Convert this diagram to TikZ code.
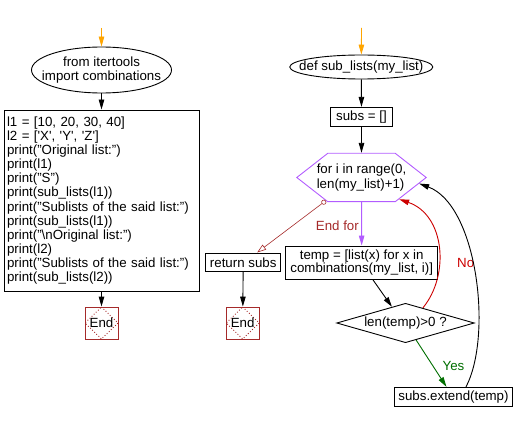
\documentclass[tikz,border=0pt]{standalone}
\usepackage{fontspec}
\setmainfont{Liberation Sans}
\usetikzlibrary{arrows.meta,positioning,shapes.geometric,shapes.symbols}
\definecolor{startorange}{RGB}{255,165,0}
\definecolor{loopviolet}{RGB}{178,92,255}
\definecolor{endred}{RGB}{165,42,42}
\definecolor{nored}{RGB}{204,0,0}
\definecolor{yesgreen}{RGB}{0,110,0}
\tikzset{
  startell/.style={ellipse, draw, inner ysep=0pt},
  procbox/.style={rectangle, draw, inner sep=0pt},
  loophex/.style={signal, signal to=east and west, signal pointer angle=76,
    draw=loopviolet, inner ysep=0pt, align=left},
  testdia/.style={diamond, draw, aspect=3.5, inner sep=0pt},
  endbox/.style={rectangle, draw=endred, minimum width=33pt, minimum height=32pt,
    inner sep=0pt,
    path picture={\draw[endred, dotted] (path picture bounding box.north)
      -- (path picture bounding box.east) -- (path picture bounding box.south)
      -- (path picture bounding box.west) -- cycle;}},
  exitline/.style={draw=endred, line width=0.6pt,
    {Circle[open,length=5pt]}-{Triangle[open,length=9pt,width=6pt]}}
}

\begin{document}
\begin{tikzpicture}[x=1pt,y=-1pt,line width=0.9pt,
  >={Triangle[length=10pt,width=5.5pt]},
  font=\fontsize{13.3}{14.15}\selectfont]
\useasboundingbox (0,0) rectangle (514,422);

% main program
\begin{scope}
\coordinate (in1) at (101.5,28);
\node[startell, inner xsep=-10pt, minimum width=139pt, minimum height=46pt, align=center]
  (imp) at (101.5,70) {from itertools\\import combinations};
\node[procbox, text width=189pt, inner xsep=3pt, minimum height=181pt, align=left]
  (code) at (101.5,200.5) {l1 = [10, 20, 30, 40]\\
  l2 = [\textquotesingle X\textquotesingle, \textquotesingle Y\textquotesingle, \textquotesingle Z\textquotesingle]\\
  print("Original list:")\\
  print(l1)\\
  print("S")\\
  print(sub\_lists(l1))\\
  print("Sublists of the said list:")\\
  print(sub\_lists(l1))\\
  print("\textbackslash nOriginal list:")\\
  print(l2)\\
  print("Sublists of the said list:")\\
  print(sub\_lists(l2))};
\node[endbox] (end1) at (101.5,323) {End};

\draw[->, startorange] (in1) -- (imp);
\draw[->] (imp) -- (code);
\draw[->] (code) -- (end1);
\end{scope}

% function sub_lists
\begin{scope}
\coordinate (in2) at (361.5,28);
\node[startell, inner xsep=-11.5pt, minimum width=139.4pt, minimum height=24pt]
  (def) at (361.3,67) {def sub\_lists(my\_list)};
\node[procbox, minimum width=62.4pt, minimum height=19.4pt]
  (subs) at (361.5,117) {subs = []};
\node[loophex, inner xsep=-11pt, minimum height=48.4pt]
  (loop) at (361.5,177.5) {for i in range(0,\\len(my\_list)+1)};
\node[procbox, minimum width=152pt, minimum height=33pt, align=center,
  font=\fontsize{13.3}{13}\selectfont]
  (temp) at (361.7,262.5) {temp = [list(x) for x in\\combinations(my\_list, i)]};
\node[testdia, minimum width=137.6pt, minimum height=39.4pt]
  (cond) at (405.5,323) {len(temp)>0 ?};
\node[procbox, minimum width=118.4pt, minimum height=18.7pt]
  (ext) at (453.5,396.7) {subs.extend(temp)};
\node[procbox, minimum width=75pt, minimum height=18.7pt]
  (ret) at (243.2,262.3) {return subs};
\node[endbox] (end2) at (242.7,323) {End};

\draw[->, startorange] (in2) -- (def);
\draw[->] (def) -- (subs);
\draw[->] (subs) -- (loop);
\draw[->, loopviolet] (loop) -- (temp)
  node[midway, left=-1pt, yshift=-2pt, text=endred] {End for};
\draw[exitline] (loop.213) -- ([xshift=14pt]ret.north);
\draw[->] (ret) -- (end2);
\draw[->] ([xshift=11pt]temp.south) -- (cond.130);
\draw[->, nored] (cond.41) .. controls (450,275) and (445,215) .. (loop.-30)
  node[pos=0.38, right=14pt, text=nored] {No};
\draw[->, yesgreen] (cond.-58) -- ([xshift=-7pt]ext.north)
  node[pos=0.55, right=6pt, text=yesgreen] {Yes};
\draw[->] ([xshift=12.5pt]ext.north) .. controls (493,335) and (477,205) .. (loop.-6);
\end{scope}

\end{tikzpicture}
\end{document}
